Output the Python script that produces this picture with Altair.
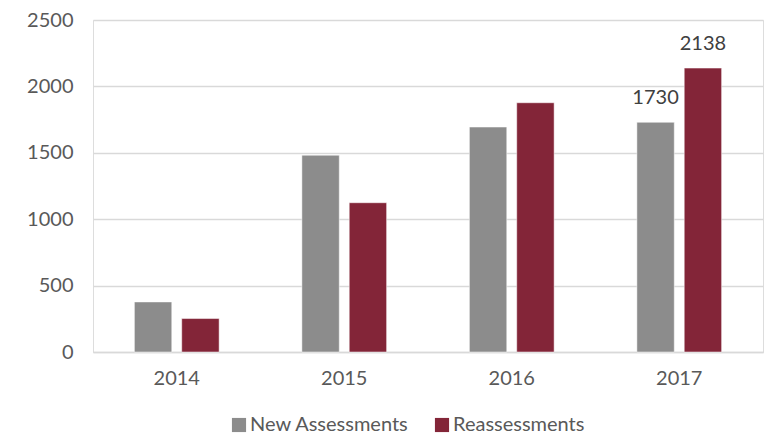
import altair as alt
import pandas as pd

years = ["2014", "2015", "2016", "2017"]
new_assessments = [377, 1482, 1694, 1730]
reassessments = [252, 1124, 1877, 2138]
series = ["New Assessments", "Reassessments"]
colors = ["#8c8c8c", "#832538"]
labelled_year = "2017"

rows = []
for i, y in enumerate(years):
    for s, vals in zip(series, [new_assessments, reassessments]):
        rows.append({"year": y, "series": s, "value": vals[i],
                     "label": str(vals[i]) if y == labelled_year else ""})
df = pd.DataFrame(rows)

FONT = "Lato"
TXT = "#595959"

yscale = alt.Scale(domain=[0, 2500], nice=False)

base = alt.Chart(df).encode(
    x=alt.X("year:N", sort=years, title=None,
            scale=alt.Scale(paddingInner=0.494, paddingOuter=0.247),
            axis=alt.Axis(labelAngle=0, labelFontSize=20, labelColor=TXT, labelFont=FONT,
                          ticks=False, grid=False, labelPadding=16, domainColor="#d9d9d9",
                          domainWidth=1.5)),
    xOffset=alt.XOffset("series:N", sort=series,
                        scale=alt.Scale(paddingInner=0.21, paddingOuter=0)),
)

bars = base.mark_bar(stroke="white", strokeWidth=0.5).encode(
    y=alt.Y("value:Q", title=None, scale=yscale,
            axis=alt.Axis(values=[0, 500, 1000, 1500, 2000, 2500], format="d",
                          labelFontSize=20, labelColor=TXT, labelFont=FONT, ticks=False,
                          domain=False, labelPadding=20, gridColor="#d9d9d9",
                          gridWidth=1.5)),
    color=alt.Color("series:N", sort=series,
                    scale=alt.Scale(domain=series, range=colors),
                    legend=alt.Legend(title=None, orient="none", direction="horizontal",
                                      legendX=136, legendY=395, symbolType="square",
                                      symbolSize=200, symbolStrokeWidth=0,
                                      labelFontSize=20, labelFont=FONT, labelColor=TXT,
                                      columnPadding=23, labelOffset=1)),
)

labels = base.mark_text(dy=-14, fontSize=20, font=FONT, color="#404040",
                        baseline="bottom").encode(
    y=alt.Y("value:Q", scale=yscale),
    text="label:N",
)

chart = alt.layer(bars, labels).properties(
    width=670, height=332,
    autosize=alt.AutoSizeParams(type="none"),
    padding={"left": 85, "top": 12, "right": 1, "bottom": 84},
).configure_view(strokeWidth=0, strokeOpacity=0).configure(background="white")

chart.save("out.html", embed_options={"renderer": "svg", "actions": False})
